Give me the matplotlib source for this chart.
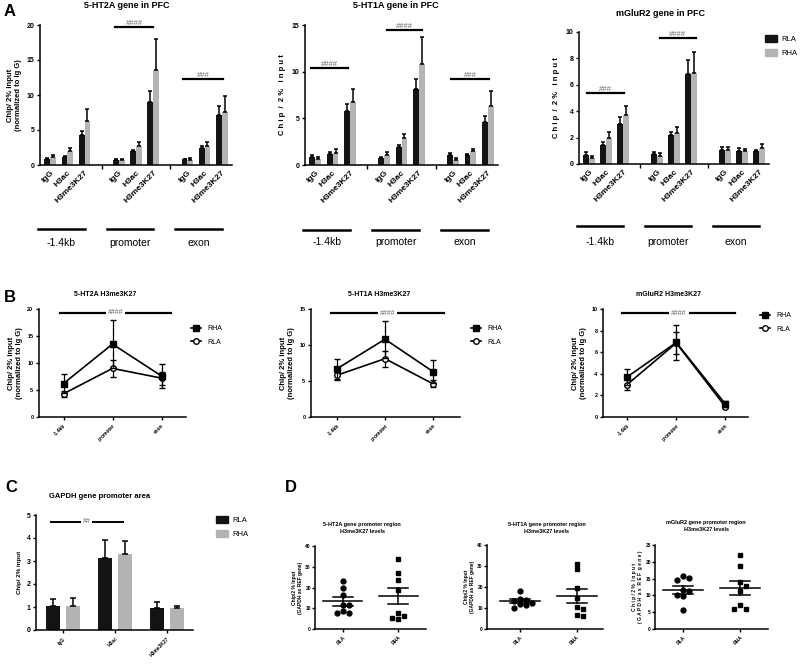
import numpy as np
import matplotlib
matplotlib.use("Agg")
import matplotlib.pyplot as plt
from matplotlib.patches import Patch
from matplotlib.lines import Line2D

plt.rcParams['font.family'] = ['Liberation Sans', 'DejaVu Sans']

# ---------------- data ----------------
regions = ["-1.4kb", "promoter", "exon"]
marks = ["IgG", "H3ac", "H3me3K27"]

# panel A, order: (-1.4kb IgG, H3ac, H3me3K27), (promoter ...), (exon ...)
ht2a_rla = [0.85, 1.2, 4.3, 0.7, 2.0, 9.0, 0.8, 2.45, 7.2]
ht2a_rla_err = [0.15, 0.15, 0.6, 0.15, 0.2, 1.6, 0.1, 0.3, 1.2]
ht2a_rha = [1.1, 2.0, 6.3, 0.75, 2.75, 13.6, 0.75, 2.75, 7.6]
ht2a_rha_err = [0.3, 0.4, 1.7, 0.15, 0.55, 4.4, 0.2, 0.55, 2.2]

ht1a_rla = [0.82, 1.18, 5.8, 0.71, 1.96, 8.1, 1.04, 1.04, 4.64]
ht1a_rla_err = [0.22, 0.18, 0.7, 0.15, 0.18, 1.15, 0.28, 0.17, 0.56]
ht1a_rha = [0.64, 1.32, 6.7, 1.07, 2.93, 10.8, 0.57, 1.5, 6.32]
ht1a_rha_err = [0.26, 0.36, 1.4, 0.36, 0.37, 2.9, 0.18, 0.25, 1.58]

mglur2_rla = [0.7, 1.41, 3.06, 0.75, 2.2, 6.85, 1.03, 1.0, 0.95]
mglur2_rla_err = [0.23, 0.22, 0.5, 0.18, 0.2, 1.05, 0.22, 0.2, 0.13]
mglur2_rha = [0.45, 1.96, 3.7, 0.62, 2.33, 6.9, 1.03, 0.95, 1.2]
mglur2_rha_err = [0.15, 0.44, 0.7, 0.2, 0.47, 1.6, 0.24, 0.19, 0.3]

# significance bars for panel A: (x from, x to, y, label)
ht2a_sig = [(3.8, 6.0, 19.7, "####"), (7.75, 10.05, 12.3, "###")]
ht1a_sig = [(-0.23, 1.9, 10.36, "####"), (4.14, 6.2, 14.5, "####"), (7.9, 10.1, 9.25, "###")]
mglur2_sig = [(-0.12, 2.07, 5.36, "###"), (4.15, 6.3, 9.55, "####")]

# panel B (H3me3K27 at -1.4kb, promoter, exon)
b_ht2a_rha = [6.2, 13.5, 7.6]
b_ht2a_rha_err = [1.7, 4.4, 2.2]
b_ht2a_rla = [4.3, 9.0, 7.2]
b_ht2a_rla_err = [0.6, 1.6, 1.2]
b_ht1a_rha = [6.7, 10.8, 6.3]
b_ht1a_rha_err = [1.4, 2.6, 1.6]
b_ht1a_rla = [5.8, 8.1, 4.6]
b_ht1a_rla_err = [0.7, 1.1, 0.5]
b_mglur2_rha = [3.7, 6.9, 1.2]
b_mglur2_rha_err = [0.7, 1.6, 0.3]
b_mglur2_rla = [3.0, 6.85, 0.95]
b_mglur2_rla_err = [0.5, 1.0, 0.15]

# panel C (GAPDH)
gapdh_rla = [1.05, 3.12, 0.97]
gapdh_rla_err = [0.3, 0.8, 0.25]
gapdh_rha = [1.05, 3.3, 0.94]
gapdh_rha_err = [0.35, 0.55, 0.12]

# panel D individual animals
d_ht2a_rla = [23.0, 20.0, 16.5, 11.5, 11.5, 8.8, 7.5, 7.5]
d_ht2a_rha = [33.5, 27.0, 23.5, 19.0, 7.5, 6.5, 5.5, 5.0]
d_ht1a_rla = [18.2, 14.5, 14.0, 13.5, 12.5, 12.0, 11.5, 10.0]
d_ht1a_rha = [30.8, 28.4, 19.7, 14.7, 10.3, 9.5, 6.8, 6.0]
d_mglur2_rla = [15.8, 15.3, 14.5, 11.6, 11.2, 10.2, 9.7, 5.7]
d_mglur2_rha = [21.9, 18.7, 13.9, 12.9, 11.2, 7.2, 6.1, 6.0]

RLA_C = "#141414"
RHA_C = "#b4b4b4"

# ---------------- helpers ----------------
fig = plt.figure(figsize=(8, 6.65), dpi=100)
W, H = 800, 665


def px_axes(l, t, r, b):
    return fig.add_axes([l / W, 1 - b / H, (r - l) / W, (b - t) / H])


def px_text(x, y, s, **kw):
    fig.text(x / W, 1 - y / H, s, **kw)


def base_style(ax, ylim, yticks, fs):
    for s in ("top", "right"):
        ax.spines[s].set_visible(False)
    for s in ("left", "bottom"):
        ax.spines[s].set_linewidth(1.1)
    ax.set_ylim(*ylim)
    ax.set_yticks(yticks, labels=[str(v) for v in yticks], fontsize=fs, fontweight="bold")
    ax.tick_params(axis="y", length=2.5, width=1, pad=1.5)


def bar_panel(ax, rla, rla_err, rha, rha_err, ylim, yticks, sigs, line_y, text_y):
    xs = np.array([g * 4 + m for g in range(3) for m in range(3)], float)
    w = 0.34
    ax.bar(xs - w / 2, rla, w, color=RLA_C, zorder=2)
    ax.bar(xs + w / 2, rha, w, color=RHA_C, zorder=2)
    ax.errorbar(xs - w / 2, rla, yerr=[np.zeros(9), rla_err], fmt="none", ecolor="k",
                elinewidth=1.1, capsize=1.2, capthick=1.1, zorder=3)
    ax.errorbar(xs + w / 2, rha, yerr=[np.zeros(9), rha_err], fmt="none", ecolor="k",
                elinewidth=1.1, capsize=1.2, capthick=1.1, zorder=3)
    base_style(ax, ylim, yticks, 5)
    ax.set_xlim(-0.6, 10.6)
    ax.set_xticks(xs, labels=marks * 3, rotation=45, ha="right", rotation_mode="anchor",
                  fontsize=6, fontweight="bold")
    ax.tick_params(axis="x", length=0, pad=3)
    ax.set_xticks([3, 7], minor=True)
    ax.tick_params(axis="x", which="minor", length=3, width=1)
    tr = ax.get_xaxis_transform()
    for g, name in enumerate(regions):
        ax.plot([g * 4 - 0.7, g * 4 + 2.0], [line_y, line_y], transform=tr, clip_on=False,
                color="k", lw=1.8)
        ax.text(g * 4 + 0.65, text_y, name, transform=tr, ha="center", va="center", fontsize=7.5)
    for x0, x1, y, s in sigs:
        ax.plot([x0, x1], [y, y], color="k", lw=1.6, clip_on=False)
        ax.text((x0 + x1) / 2, y, s, ha="center", va="bottom", fontsize=5.5, color="0.4")


def line_panel(ax, rha, rha_err, rla, rla_err, ylim, yticks, xlim, sig_x, sig_y, leg_xy):
    x = np.arange(3)
    ax.errorbar(x, rla, yerr=rla_err, color="k", lw=1.2, marker="o", mfc="white", mec="k",
                ms=4, mew=1, capsize=2, elinewidth=0.9, zorder=3)
    ax.errorbar(x, rha, yerr=rha_err, color="k", lw=1.2, marker="s", ms=4, capsize=2,
                elinewidth=0.9, zorder=4)
    base_style(ax, ylim, yticks, 4)
    ax.set_xlim(*xlim)
    ax.set_xticks(x, labels=regions, rotation=45, ha="right", rotation_mode="anchor",
                  fontsize=3.5, fontweight="bold")
    ax.tick_params(axis="x", length=2.5, width=1, pad=2)
    ax.set_ylabel("Chip/ 2% input\n(normalized to Ig G)", fontsize=5.5, fontweight="bold",
                  labelpad=3)
    ax.plot(sig_x, [sig_y, sig_y], color="k", lw=1.6, clip_on=False)
    ax.text(np.mean(sig_x), sig_y, "####", ha="center", va="center", fontsize=5,
            color="0.4", bbox=dict(fc="white", ec="none", pad=1.5))
    handles = [Line2D([], [], color="k", marker="s", ms=4, lw=1.2),
               Line2D([], [], color="k", marker="o", mfc="white", ms=4, lw=1.2)]
    fig.legend(handles, ["RHA", "RLA"], loc="center left",
               bbox_to_anchor=(leg_xy[0] / W, 1 - leg_xy[1] / H), frameon=False,
               fontsize=5, handlelength=1.5, handletextpad=0.8, borderpad=0,
               borderaxespad=0, labelspacing=0.9)


def swarm(vals, dx, dy):
    order = np.argsort(vals)[::-1]
    offs = np.zeros(len(vals))
    placed = []
    for i in order:
        for k in [0, 1, -1, 2, -2, 3, -3, 4, -4]:
            x = k * dx * 0.5
            if all(abs(x - px) >= dx or abs(vals[i] - py) >= dy for px, py in placed):
                break
        offs[i] = x
        placed.append((x, vals[i]))
    return offs


def dot_panel(ax, rla, rha, ylim, yticks, xlim, ylabel, height_px):
    dy = 5.0 * ylim[1] / height_px
    for i, (vals, mk) in enumerate([(rla, "o"), (rha, "s")]):
        v = np.array(vals)
        offs = swarm(v, 0.11, dy)
        ax.plot(i + offs, v, mk, color="k", ms=3.5, ls="none", zorder=3)
        m = v.mean()
        sem = v.std(ddof=1) / np.sqrt(len(v))
        ax.plot([i - 0.35, i + 0.35], [m, m], color="k", lw=1.1)
        ax.plot([i - 0.18, i + 0.18], [m - sem, m - sem], color="k", lw=1.1)
        ax.plot([i - 0.18, i + 0.18], [m + sem, m + sem], color="k", lw=1.1)
        ax.plot([i, i], [m - sem, m + sem], color="k", lw=1.1)
    base_style(ax, ylim, yticks, 3.5)
    ax.tick_params(axis="y", length=2, pad=1)
    ax.set_xlim(*xlim)
    ax.set_xticks([0, 1], labels=["RLA", "RHA"], rotation=45, ha="right",
                  rotation_mode="anchor", fontsize=3.5, fontweight="bold")
    ax.tick_params(axis="x", length=2, width=1, pad=2)
    ax.set_ylabel(ylabel, fontsize=3.5, fontweight="bold", labelpad=2)


# ---------------- panel A ----------------
a1 = px_axes(40, 25, 232, 165)
bar_panel(a1, ht2a_rla, ht2a_rla_err, ht2a_rha, ht2a_rha_err, (0, 20), [0, 5, 10, 15, 20],
          ht2a_sig, -0.457, -0.557)
a1.set_ylabel("Chip/ 2% input\n(normalized to Ig G)", fontsize=5.5, fontweight="bold", labelpad=3)

a2 = px_axes(305, 25, 498, 165)
bar_panel(a2, ht1a_rla, ht1a_rla_err, ht1a_rha, ht1a_rha_err, (0, 15), [0, 5, 10, 15],
          ht1a_sig, -0.464, -0.55)
a2.set_ylabel("C h i p  /  2 %   i n p u t", fontsize=5.5, fontweight="bold", labelpad=4)

a3 = px_axes(579, 32, 769, 164)
bar_panel(a3, mglur2_rla, mglur2_rla_err, mglur2_rha, mglur2_rha_err, (0, 10),
          [0, 2, 4, 6, 8, 10], mglur2_sig, -0.47, -0.59)
a3.set_ylabel("C h i p  /  2 %   i n p u t", fontsize=5.5, fontweight="bold", labelpad=4)

fig.legend([Patch(color=RLA_C), Patch(color=RHA_C)], ["RLA", "RHA"], loc="upper left",
           bbox_to_anchor=(765 / W, 1 - 35 / H), frameon=False, fontsize=5.5,
           handlelength=1.6, handleheight=1.0, handletextpad=0.5, borderpad=0,
           borderaxespad=0, labelspacing=0.8)

px_text(127, 6, "5-HT2A gene in PFC", ha="center", va="center", fontsize=6.5, fontweight="bold")
px_text(396, 6, "5-HT1A gene in PFC", ha="center", va="center", fontsize=6.5, fontweight="bold")
px_text(661, 13, "mGluR2 gene in PFC", ha="center", va="center", fontsize=6.5, fontweight="bold")

# ---------------- panel B ----------------
b1 = px_axes(39, 309, 186, 417)
line_panel(b1, b_ht2a_rha, b_ht2a_rha_err, b_ht2a_rla, b_ht2a_rla_err, (0, 20),
           [0, 5, 10, 15, 20], (-0.5, 2.5), (-0.08, 2.2), 19.3, (191, 335.5))
b2 = px_axes(311, 309, 460, 417)
line_panel(b2, b_ht1a_rha, b_ht1a_rha_err, b_ht1a_rla, b_ht1a_rla_err, (0, 15),
           [0, 5, 10, 15], (-0.54, 2.56), (-0.12, 2.23), 14.4, (471, 335.5))
b3 = px_axes(603, 309, 748, 417)
line_panel(b3, b_mglur2_rha, b_mglur2_rha_err, b_mglur2_rla, b_mglur2_rla_err, (0, 10),
           [0, 2, 4, 6, 8, 10], (-0.49, 2.46), (-0.1, 2.2), 9.6, (760, 322.5))

px_text(105, 294, "5-HT2A H3me3K27", ha="center", va="center", fontsize=5, fontweight="bold")
px_text(379, 294, "5-HT1A H3me3K27", ha="center", va="center", fontsize=5, fontweight="bold")
px_text(668, 294, "mGluR2 H3me3K27", ha="center", va="center", fontsize=5, fontweight="bold")

# ---------------- panel C ----------------
c1 = px_axes(36, 515, 193, 630)
xc = np.arange(3)
cw = 0.28
c1.bar(xc - 0.19, gapdh_rla, cw, color=RLA_C, zorder=2)
c1.bar(xc + 0.19, gapdh_rha, cw, color=RHA_C, zorder=2)
c1.errorbar(xc - 0.19, gapdh_rla, yerr=[np.zeros(3), gapdh_rla_err], fmt="none", ecolor="k",
            elinewidth=1.1, capsize=2.5, capthick=1.1)
c1.errorbar(xc + 0.19, gapdh_rha, yerr=[np.zeros(3), gapdh_rha_err], fmt="none", ecolor="k",
            elinewidth=1.1, capsize=2.5, capthick=1.1)
base_style(c1, (0, 5), [0, 1, 2, 3, 4, 5], 5)
c1.set_xlim(-0.52, 2.5)
c1.set_xticks(xc, labels=marks, rotation=45, ha="right", rotation_mode="anchor",
              fontsize=3.5, fontweight="bold")
c1.tick_params(axis="x", length=2.5, width=1, pad=2)
c1.set_ylabel("Chip/ 2% input", fontsize=4.5, fontweight="bold", labelpad=3)
c1.plot([-0.23, 1.15], [4.7, 4.7], color="k", lw=1.4)
c1.text(0.46, 4.7, "##", ha="center", va="center", fontsize=5, color="0.4",
        bbox=dict(fc="white", ec="none", pad=1.2))
fig.legend([Patch(color=RLA_C), Patch(color=RHA_C)], ["RLA", "RHA"], loc="upper left",
           bbox_to_anchor=(216 / W, 1 - 516 / H), frameon=False, fontsize=5.5,
           handlelength=1.6, handleheight=1.1, handletextpad=0.6, borderpad=0,
           borderaxespad=0, labelspacing=0.7)
px_text(100, 497, "GAPDH gene promoter area", ha="center", va="center", fontsize=5.5,
        fontweight="bold")

# ---------------- panel D ----------------
d1 = px_axes(315, 546, 426, 629)
dot_panel(d1, d_ht2a_rla, d_ht2a_rha, (0, 40), [0, 10, 20, 30, 40], (-0.5, 1.5),
          "Chip/2 % Input\n(GAPDH as REF gene)", 83)
d2 = px_axes(487, 545, 603, 629)
dot_panel(d2, d_ht1a_rla, d_ht1a_rha, (0, 40), [0, 10, 20, 30, 40], (-0.58, 1.46),
          "Chip/2 % Input\n(GAPDH as REF gene)", 84)
d3 = px_axes(655, 545, 768, 629)
dot_panel(d3, d_mglur2_rla, d_mglur2_rha, (0, 25), [0, 5, 10, 15, 20, 25], (-0.49, 1.49),
          "C h i p / 2 %  I n p u t\n( G A P D H  a s  R E F  g e n e )", 84)

px_text(362, 528, "5-HT2A gene promoter region\nH3me3K27 levels", ha="center", va="center",
        fontsize=4, fontweight="bold", linespacing=1.3)
px_text(547, 528, "5-HT1A gene promoter region\nH3me3K27 levels", ha="center", va="center",
        fontsize=4, fontweight="bold", linespacing=1.3)
px_text(706, 526, "mGluR2 gene promoter region\nH3me3K27 levels", ha="center", va="center",
        fontsize=4, fontweight="bold", linespacing=1.3)

# panel letters
for letter, (lx, ly) in zip("ABCD", [(10, 11), (10, 297), (11, 488), (291, 488)]):
    px_text(lx, ly, letter, ha="center", va="center", fontsize=12, fontweight="bold")

fig.savefig("out.png", dpi=100)
